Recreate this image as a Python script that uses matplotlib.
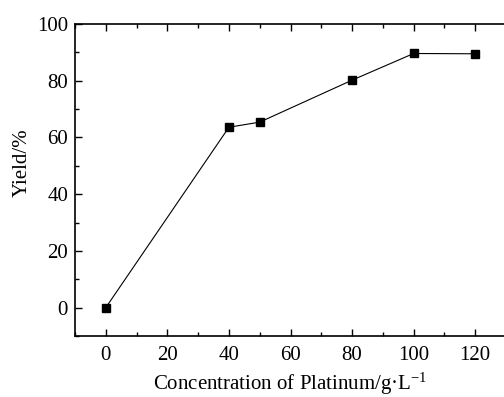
import matplotlib
matplotlib.use('Agg')
import matplotlib.pyplot as plt
from matplotlib.ticker import MultipleLocator

# концентрация платины, г/л и выход, %
conc = [0, 40, 50, 80, 100, 120]
yield_pct = [0, 63.6, 65.4, 80.2, 89.6, 89.5]

plt.rcParams['font.family'] = ['Liberation Serif', 'DejaVu Serif']
plt.rcParams['mathtext.fontset'] = 'custom'
plt.rcParams['mathtext.rm'] = 'Liberation Serif'
plt.rcParams['mathtext.it'] = 'Liberation Serif:italic'
plt.rcParams['mathtext.default'] = 'rm'

fig = plt.figure(figsize=(5.04, 3.97), dpi=100)
ax = fig.add_axes([75 / 504, 1 - 336 / 397, 431 / 504, 312 / 397])

ax.plot(conc, yield_pct, color='black', linewidth=0.8, marker='s',
        markersize=5.5, markerfacecolor='black', markeredgecolor='black')

ax.set_xlim(-10, 130)
ax.set_ylim(-10, 100)
ax.xaxis.set_major_locator(MultipleLocator(20))
ax.xaxis.set_minor_locator(MultipleLocator(10))
ax.yaxis.set_major_locator(MultipleLocator(20))
ax.yaxis.set_minor_locator(MultipleLocator(10))

ax.tick_params(which='both', direction='in', top=True, right=False,
               width=1.0, labelsize=15, pad=5)
ax.tick_params(which='major', length=5)
ax.tick_params(which='minor', length=3)
ax.tick_params(axis='x', which='major', pad=7)
ax.spines['right'].set_visible(False)
for s in ['left', 'bottom', 'top']:
    ax.spines[s].set_linewidth(1.2)

ax.set_xlabel('Concentration of Platinum/g\u00b7L$^{-1}$', fontsize=15)
ax.xaxis.set_label_coords(0.5, -0.112)
ax.set_ylabel('Yield/%', fontsize=15)
# подпись оси Y сдвинута вверх, как в оригинале
ax.yaxis.set_label_coords(-0.10, 0.555)

plt.savefig('out.png', dpi=100)
